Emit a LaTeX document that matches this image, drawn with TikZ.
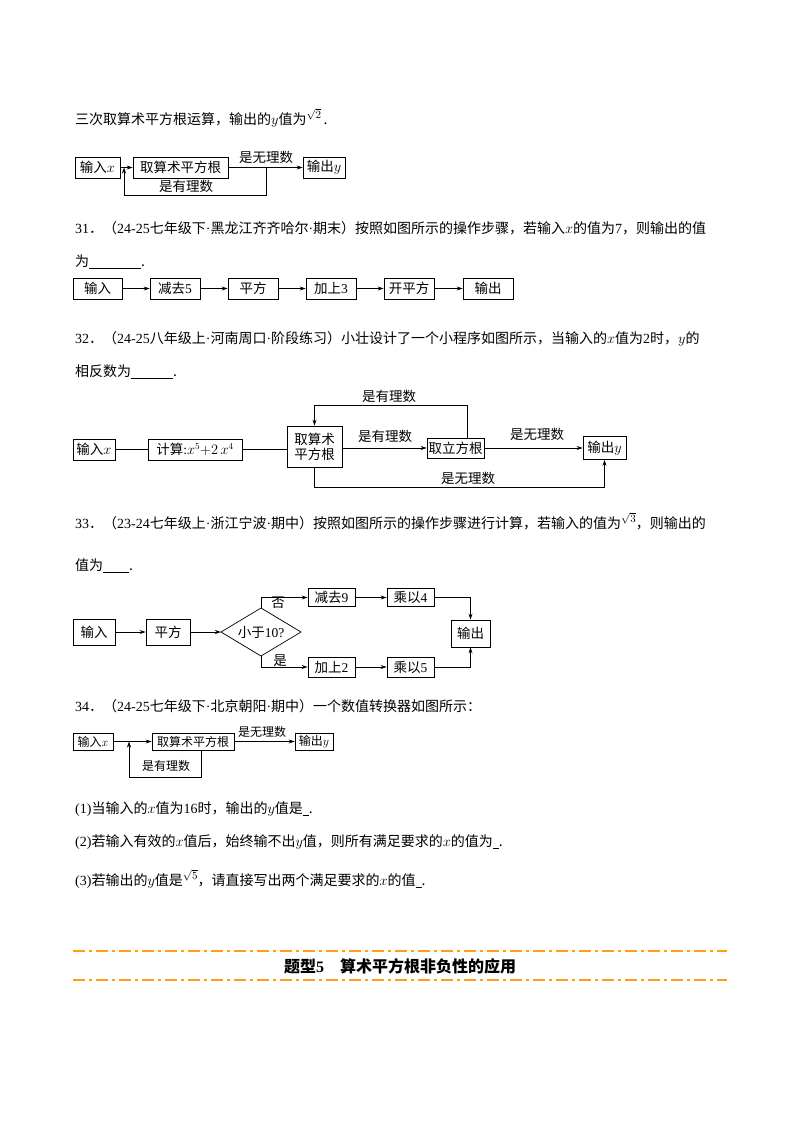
\documentclass[tikz,border=0pt]{standalone}
\usepackage{fontspec}
\setmainfont{Liberation Serif}
\newfontfamily\cjk{Noto Sans CJK SC}
\usetikzlibrary{arrows.meta}
\XeTeXinterchartokenstate=1
\newXeTeXintercharclass\cjkclass
\newcount\cc
\cc="4E00 \loop \XeTeXcharclass\cc=\cjkclass \advance\cc1 \ifnum\cc<"A000 \repeat
\cc="3000 \loop \XeTeXcharclass\cc=\cjkclass \advance\cc1 \ifnum\cc<"3040 \repeat
\cc="FF00 \loop \XeTeXcharclass\cc=\cjkclass \advance\cc1 \ifnum\cc<"FFF0 \repeat
\XeTeXinterchartoks 0 \cjkclass = {\cjk}
\XeTeXinterchartoks 4095 \cjkclass = {\cjk}
\XeTeXinterchartoks \cjkclass 0 = {\rmfamily}
\definecolor{bandor}{RGB}{255,160,20}
\newcommand\rt[1]{\raisebox{6pt}{\fontsize{11}{12}\selectfont$\sqrt{#1}$}}
\tikzset{
  bx/.style={draw,line width=0.7pt,inner sep=0pt,font=\fontsize{13.5}{15}\selectfont},
  sbx/.style={draw,line width=0.7pt,inner sep=0pt,font=\fontsize{12}{13}\selectfont},
  txt/.style={anchor=west,inner sep=0pt,font=\fontsize{14}{16}\selectfont},
  lbl/.style={inner sep=0pt,font=\fontsize{13.5}{15}\selectfont},
  ar/.style={-{Stealth[length=6pt,width=4pt]},line width=0.7pt},
  ln/.style={line width=0.7pt},
  band/.style={bandor,line width=2pt,dash pattern=on 12pt off 4pt on 3pt off 4pt}
}
\begin{document}
\begin{tikzpicture}[x=1pt,y=-1pt]
\useasboundingbox (0,0) rectangle (800,1132);
% top line
\node[txt] (t0) at (75,118) {三次取算术平方根运算，输出的$y$值为\rt{2}\,.};
% D1
\node[bx,minimum width=45,minimum height=21] (a1) at (97.5,167.5) {输入$x$};
\node[bx,minimum width=95,minimum height=21] (a2) at (180.5,167.5) {取算术平方根};
\node[bx,minimum width=42,minimum height=21] (a3) at (324,167.5) {输出$y$};
\coordinate (a4) at (266,167.5);
\coordinate (a5) at (124,167.5);
\draw[ar] (a1) -- (a2);
\draw[ar] (a2) -- (a3);
\draw[ar] (a4) -- (266,195) -- (124,195) -- (a5);
\node[lbl] (a6) at (266,157) {是无理数};
\node[lbl] (a7) at (186,186) {是有理数};
% Q31
\node[txt] (t1) at (75,228) {31．（24-25七年级下·黑龙江齐齐哈尔·期末）按照如图所示的操作步骤，若输入$x$的值为7，则输出的值};
\node[txt] (t2) at (75,262) {为\underline{\hspace{52pt}}.};
\node[bx,minimum width=49,minimum height=21] (b1) at (97.5,288.5) {输入};
\node[bx,minimum width=50,minimum height=21] (b2) at (175,288.5) {减去5};
\node[bx,minimum width=50,minimum height=21] (b3) at (253,288.5) {平方};
\node[bx,minimum width=50,minimum height=21] (b4) at (331,288.5) {加上3};
\node[bx,minimum width=50,minimum height=21] (b5) at (409,288.5) {开平方};
\node[bx,minimum width=50,minimum height=21] (b6) at (488,288.5) {输出};
\foreach \p/\q in {b1/b2,b2/b3,b3/b4,b4/b5,b5/b6} \draw[ar] (\p) -- (\q);
% Q32
\node[txt] (t3) at (75,339) {32．（24-25八年级上·河南周口·阶段练习）小壮设计了一个小程序如图所示，当输入的$x$值为2时，$y$的};
\node[txt] (t4) at (75,372) {相反数为\underline{\hspace{42pt}}.};
\node[bx,minimum width=42,minimum height=21] (c1) at (94,449.5) {输入$x$};
\node[bx,minimum width=94,minimum height=21] (c2) at (195,449.5) {计算:$x^5{+}2\,x^4$};
\node[bx,minimum width=55,minimum height=41,align=center] (c3) at (314.5,446.5) {取算术\\平方根};
\node[bx,minimum width=57,minimum height=20] (c4) at (455.5,448) {取立方根};
\node[bx,minimum width=43,minimum height=23] (c5) at (604.5,448) {输出$y$};
\draw[ln] (c1) -- (c2);
\draw[ln] (c2.east) -- (c3.west |- c2.east);
\draw[ar] (c3.east |- c4) -- (c4);
\draw[ar] (c4) -- (c5);
\coordinate (c6) at (467,438);
\draw[ar] (c6) -- (467,405) -- (314.5,405) -- (c3.north);
\draw[ar] (c3.south) -- (314.5,487) -- (604.5,487) -- (c5.south);
\node[lbl] (c7) at (389,396) {是有理数};
\node[lbl] (c8) at (385,436) {是有理数};
\node[lbl] (c9) at (537,434) {是无理数};
\node[lbl] (c10) at (468,478) {是无理数};
% Q33
\node[txt] (t5) at (75,521) {33．（23-24七年级上·浙江宁波·期中）按照如图所示的操作步骤进行计算，若输入的值为\rt{3}，则输出的};
\node[txt] (t6) at (75,566) {值为\underline{\hspace{26pt}}.};
\node[bx,minimum width=42,minimum height=26] (d1) at (94,632) {输入};
\node[bx,minimum width=44,minimum height=26] (d2) at (168,632) {平方};
\node[lbl] (d3) at (261,632) {小于10?};
\coordinate (dl) at (221,632);
\coordinate (dr) at (301,632);
\coordinate (dt) at (261,608);
\coordinate (db) at (261,656);
\draw[ln] (dl) -- (dt) -- (dr) -- (db) -- cycle;
\node[bx,minimum width=47,minimum height=18] (d4) at (331.5,597.5) {减去9};
\node[bx,minimum width=47,minimum height=18] (d5) at (410.5,597.5) {乘以4};
\node[bx,minimum width=39,minimum height=27] (d6) at (470.5,633.5) {输出};
\node[bx,minimum width=47,minimum height=20] (d7) at (331.5,667) {加上2};
\node[bx,minimum width=47,minimum height=20] (d8) at (410.5,667) {乘以5};
\draw[ar] (d1) -- (d2);
\draw[ar] (d2) -- (dl);
\draw[ar] (dt) |- (d4);
\draw[ar] (db) |- (d7);
\draw[ar] (d4) -- (d5);
\draw[ar] (d7) -- (d8);
\draw[ar] (d5) -| (d6);
\draw[ar] (d8) -| (d6);
\node[lbl] (d9) at (278,603) {否};
\node[lbl] (d10) at (280,661) {是};
% Q34
\node[txt] (t7) at (75,706) {34．（24-25七年级下·北京朝阳·期中）一个数值转换器如图所示：};
\node[sbx,minimum width=40,minimum height=17] (e1) at (93,741.5) {输入$x$};
\node[sbx,minimum width=82,minimum height=17] (e2) at (193,741.5) {取算术平方根};
\node[sbx,minimum width=38,minimum height=17] (e3) at (314,741.5) {输出$y$};
\coordinate (e4) at (129,741.5);
\draw[ar] (e1) -- (e2);
\draw[ar] (e2) -- (e3);
\draw[ar] (201,750) -- (201,777) -- (129,777) -- (e4);
\node[lbl,font=\fontsize{12}{13}\selectfont] (e5) at (262,732) {是无理数};
\node[lbl,font=\fontsize{12}{13}\selectfont] (e6) at (166,766) {是有理数};
\node[txt] (t8) at (75,809) {(1)当输入的$x$值为16时，输出的$y$值是\underline{\hspace{6pt}}.};
\node[txt] (t9) at (75,842) {(2)若输入有效的$x$值后，始终输不出$y$值，则所有满足要求的$x$的值为\underline{\hspace{6pt}}.};
\node[txt] (t10) at (75,879) {(3)若输出的$y$值是\rt{5}，请直接写出两个满足要求的$x$的值\underline{\hspace{6pt}}.};
% banner
\draw[band] (73,951) -- (727,951);
\draw[band] (73,980) -- (727,980);
\node[lbl,font=\fontsize{16}{18}\selectfont\bfseries] (t11) at (400,966) {题型5\quad 算术平方根非负性的应用};
\end{tikzpicture}
\end{document}
